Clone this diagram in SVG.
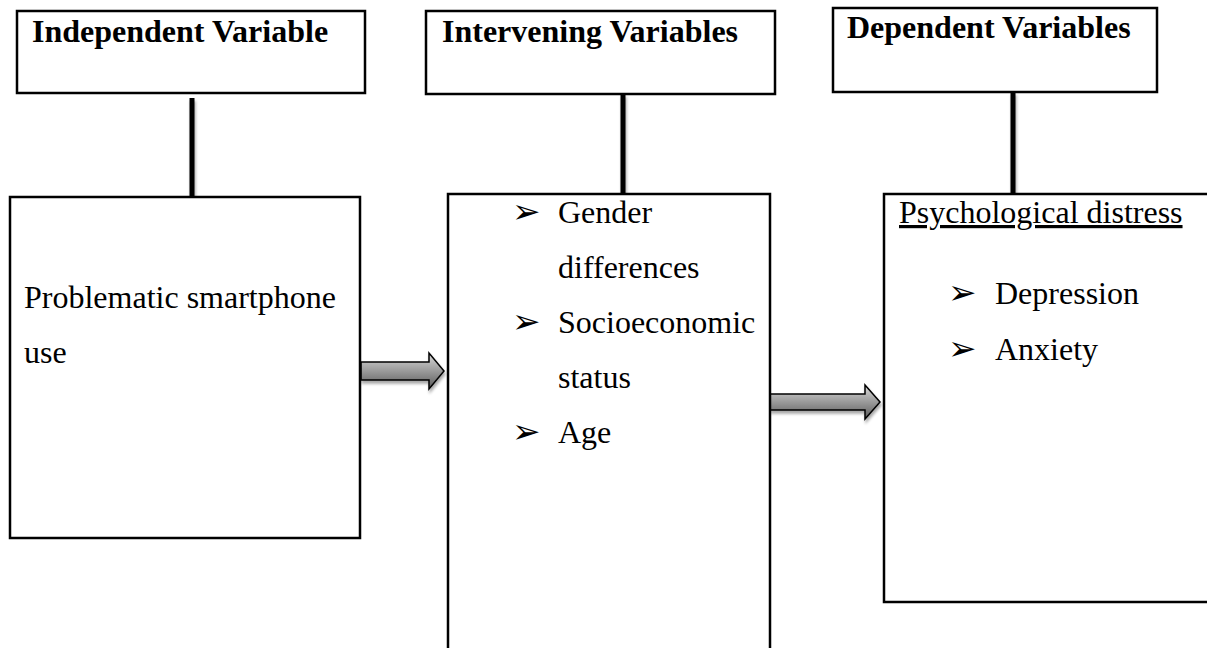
<svg xmlns="http://www.w3.org/2000/svg" width="1207" height="648" viewBox="0 0 1207 648">
<defs>
<linearGradient id="ag" x1="0" y1="0" x2="0" y2="1">
<stop offset="0" stop-color="#d9d9d9"/>
<stop offset="0.5" stop-color="#9a9a9a"/>
<stop offset="1" stop-color="#5a5a5a"/>
</linearGradient>
<filter id="sh" filterUnits="userSpaceOnUse" x="0" y="0" width="1207" height="648">
<feGaussianBlur in="SourceAlpha" stdDeviation="1.5"/>
<feOffset dx="1" dy="3" result="b"/>
<feComponentTransfer><feFuncA type="linear" slope="0.35"/></feComponentTransfer>
<feMerge><feMergeNode/><feMergeNode in="SourceGraphic"/></feMerge>
</filter>
</defs>
<style>
.box{fill:#fff;stroke:#000;stroke-width:2.5}
.hd{font-family:"Liberation Serif",serif;font-weight:bold;font-size:32px;fill:#000}
.tx{font-family:"Liberation Serif",serif;font-size:32px;fill:#000}
.bl{font-family:"DejaVu Sans",sans-serif;font-size:34px;fill:#000}
.ln{fill:#000}
.ar{fill:url(#ag);stroke:#000;stroke-width:1.5;stroke-linejoin:miter}
</style>
<rect width="1207" height="648" fill="#fff"/>
<g id="connectors">
<rect class="ln" x="189.5" y="98" width="5" height="99" filter="url(#sh)"/>
<rect class="ln" x="620.5" y="94" width="5" height="100" filter="url(#sh)"/>
<rect class="ln" x="1010.5" y="92" width="5" height="102" filter="url(#sh)"/>
<path class="ar" filter="url(#sh)" d="M361,362 H429 V353 L444,371 L429,389 V380 H361 Z"/>
<path class="ar" filter="url(#sh)" d="M770,394 H865 V385 L880,402 L865,419 V410 H770 Z"/>
</g>
<g id="header-independent">
<rect class="box" x="17" y="11" width="348" height="82"/>
<text class="hd" x="32" y="42">Independent Variable</text>
</g>
<g id="header-intervening">
<rect class="box" x="426" y="11" width="349" height="83"/>
<text class="hd" x="442" y="42">Intervening Variables</text>
</g>
<g id="header-dependent">
<rect class="box" x="833" y="8" width="324" height="84"/>
<text class="hd" x="847" y="38">Dependent Variables</text>
</g>
<g id="independent">
<rect class="box" x="10" y="197" width="350" height="341"/>
<text class="tx" x="24" y="308">Problematic smartphone</text>
<text class="tx" x="24" y="363">use</text>
</g>
<g id="intervening">
<rect class="box" x="448" y="194" width="322" height="470"/>
<text class="bl" x="512" y="223">➢</text>
<text class="tx" x="558" y="223">Gender</text>
<text class="tx" x="558" y="278">differences</text>
<text class="bl" x="512" y="333">➢</text>
<text class="tx" x="558" y="333">Socioeconomic</text>
<text class="tx" x="558" y="388">status</text>
<text class="bl" x="512" y="443">➢</text>
<text class="tx" x="558" y="443">Age</text>
</g>
<g id="dependent">
<rect class="box" x="884" y="194" width="340" height="408"/>
<text class="tx" x="899" y="223" text-decoration="underline">Psychological distress</text>
<text class="bl" x="948" y="304">➢</text>
<text class="tx" x="995" y="304">Depression</text>
<text class="bl" x="948" y="360">➢</text>
<text class="tx" x="995" y="360">Anxiety</text>
</g>
</svg>
